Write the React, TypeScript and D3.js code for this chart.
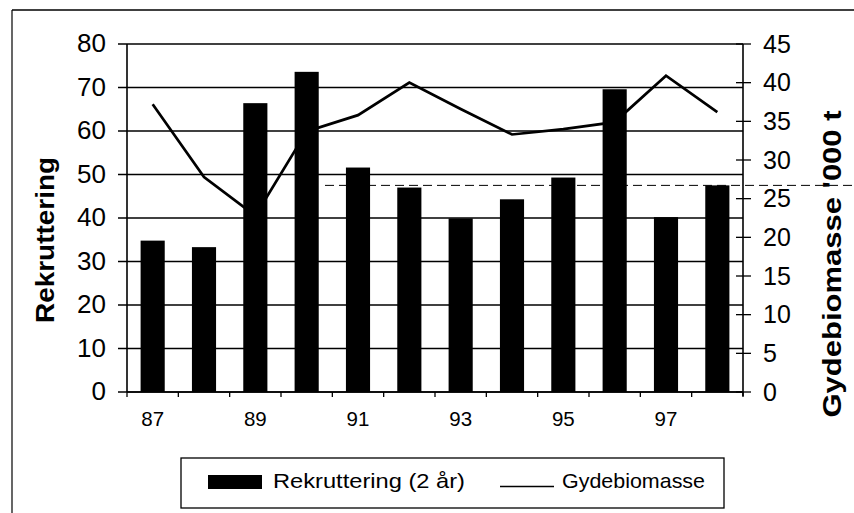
import React from "react";
import * as d3 from "d3";

const years = ["87", "88", "89", "90", "91", "92", "93", "94", "95", "96", "97", "98"];
const labelledYears = ["87", "89", "91", "93", "95", "97"];
const rekruttering = [34.8, 33.3, 66.4, 73.6, 51.6, 47.0, 39.9, 44.3, 49.3, 69.6, 40.2, 47.5];
const gydebiomasse = [37.2, 27.8, 22.8, 33.7, 35.8, 40.0, 36.6, 33.3, 34.0, 34.9, 40.9, 36.2];
const leftTicks = [0, 10, 20, 30, 40, 50, 60, 70, 80];
const rightTicks = [0, 5, 10, 15, 20, 25, 30, 35, 40, 45];
const referenceLevel = 47.5; // dashed level on left axis
const leftTitle = "Rekruttering";
const rightTitle = "Gydebiomasse '000 t";
const legendBar = "Rekruttering (2 år)";
const legendLine = "Gydebiomasse";

const W = 854;
const H = 513;
const PL = 127, PR = 743, PT = 44, PB = 392;
const FONT = "Arial, 'Liberation Sans', sans-serif";

export default function App() {
  const x = d3.scaleBand<string>().domain(years).range([PL, PR]).paddingInner(0.53).paddingOuter(0.265);
  const yL = d3.scaleLinear().domain([0, 80]).range([PB, PT]);
  const yR = d3.scaleLinear().domain([0, 45]).range([PB, PT]);
  const step = x.step();
  const cx = (d: string) => (x(d) as number) + x.bandwidth() / 2;

  const line = d3
    .line<number>()
    .x((_, i) => cx(years[i]))
    .y((v) => yR(v));

  const boundaries = d3.range(years.length + 1).map((i) => PL + i * step);

  return (
    <svg width={W} height={H} style={{ position: "absolute", left: 0, top: 0, background: "#fff" }}>
      {/* outer frame */}
      <line x1={12} y1={10} x2={W} y2={10} stroke="#000" strokeWidth={1.5} />
      <line x1={12} y1={10} x2={12} y2={H} stroke="#000" strokeWidth={1.2} />

      {/* gridlines */}
      {leftTicks.map((t) => (
        <line key={"g" + t} x1={PL - 9} x2={PR} y1={yL(t)} y2={yL(t)} stroke="#000" strokeWidth={1.4} />
      ))}

      {/* reference dashed line */}
      <line
        x1={325}
        x2={W}
        y1={yL(referenceLevel)}
        y2={yL(referenceLevel)}
        stroke="#000"
        strokeWidth={1}
        strokeDasharray="9 5"
      />

      {/* line series (behind bars) */}
      <path d={line(gydebiomasse) || ""} fill="none" stroke="#000" strokeWidth={2.7} strokeLinejoin="miter" />

      {/* bars */}
      {rekruttering.map((v, i) => (
        <rect key={"b" + i} x={x(years[i])} y={yL(v)} width={x.bandwidth()} height={PB - yL(v)} fill="#000" />
      ))}

      {/* axes */}
      <line x1={PL} x2={PL} y1={PT} y2={PB} stroke="#000" strokeWidth={1.6} />
      <line x1={PR} x2={PR} y1={PT} y2={PB + 4} stroke="#000" strokeWidth={1.6} />
      <line x1={PL} x2={PR} y1={PB} y2={PB} stroke="#000" strokeWidth={1.6} />
      {boundaries.map((bx, i) => (
        <line key={"xt" + i} x1={bx} x2={bx} y1={PB} y2={PB + 5} stroke="#000" strokeWidth={1.3} />
      ))}
      {rightTicks.map((t) => (
        <line key={"rt" + t} x1={PR - 7} x2={PR + 8} y1={yR(t)} y2={yR(t)} stroke="#000" strokeWidth={1.3} />
      ))}

      {/* left tick labels */}
      {leftTicks.map((t) => (
        <text key={"ll" + t} x={106} y={yL(t) + 8} textAnchor="end" fontFamily={FONT} fontSize={26} fill="#000">
          {t}
        </text>
      ))}
      {/* right tick labels */}
      {rightTicks.map((t) => (
        <text key={"rl" + t} x={763} y={yR(t) + 8.5} textAnchor="start" fontFamily={FONT} fontSize={25} fill="#000">
          {t}
        </text>
      ))}
      {/* x labels */}
      {labelledYears.map((d) => (
        <text key={"xl" + d} x={cx(d)} y={426} textAnchor="middle" fontFamily={FONT} fontSize={20.5} fill="#000">
          {d}
        </text>
      ))}

      {/* axis titles */}
      <text
        transform={`translate(54,240) rotate(-90)`}
        textAnchor="middle"
        fontFamily={FONT}
        fontSize={26}
        fontWeight="bold"
        textLength={166}
        lengthAdjust="spacingAndGlyphs"
        fill="#000"
      >
        {leftTitle}
      </text>
      <text
        transform={`translate(841,264) rotate(-90)`}
        textAnchor="middle"
        fontFamily={FONT}
        fontSize={26}
        fontWeight="bold"
        textLength={307}
        lengthAdjust="spacingAndGlyphs"
        fill="#000"
      >
        {rightTitle}
      </text>

      {/* legend */}
      <rect x={181} y={458} width={543} height={50} fill="none" stroke="#000" strokeWidth={1.3} />
      <rect x={208} y={475} width={54} height={14} fill="#000" />
      <text x={273} y={488} fontFamily={FONT} fontSize={21} textLength={192} lengthAdjust="spacingAndGlyphs" fill="#000">
        {legendBar}
      </text>
      <line x1={500} x2={554} y1={486.5} y2={486.5} stroke="#000" strokeWidth={1.6} />
      <text x={562} y={488} fontFamily={FONT} fontSize={21} textLength={143} lengthAdjust="spacingAndGlyphs" fill="#000">
        {legendLine}
      </text>
    </svg>
  );
}
